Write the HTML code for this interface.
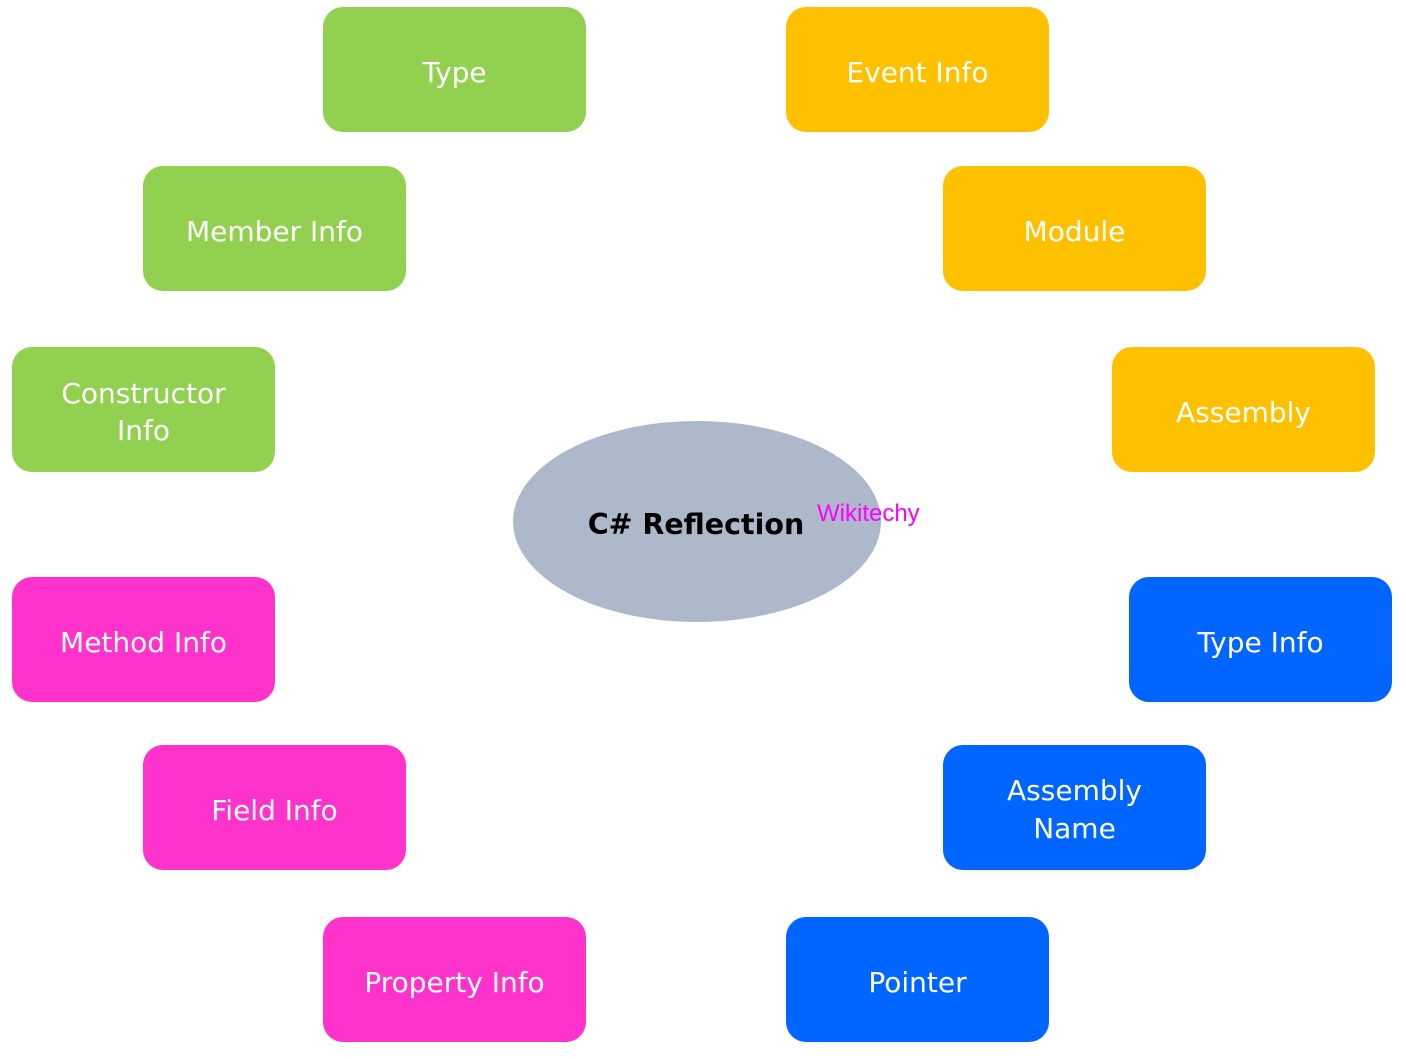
<!DOCTYPE html>
<html>
<head>
<meta charset="utf-8">
<style>
html,body{margin:0;padding:0;background:#fff;}
svg{display:block;}
.t{font-family:"DejaVu Sans","Liberation Sans",sans-serif;font-size:28px;fill:#fff;text-anchor:middle;}
</style>
</head>
<body>
<svg width="1406" height="1059" viewBox="0 0 1406 1059" xmlns="http://www.w3.org/2000/svg">
  <!-- green -->
  <rect x="323" y="7" width="263" height="125" rx="20" fill="#92D050"/>
  <text class="t" x="454.5" y="82">Type</text>
  <rect x="143" y="166" width="263" height="125" rx="20" fill="#92D050"/>
  <text class="t" x="274.5" y="241">Member Info</text>
  <rect x="12" y="347" width="263" height="125" rx="20" fill="#92D050"/>
  <text class="t" x="143.5" y="403">Constructor</text>
  <text class="t" x="143.5" y="440">Info</text>

  <!-- orange -->
  <rect x="786" y="7" width="263" height="125" rx="20" fill="#FFC000"/>
  <text class="t" x="917.5" y="82">Event Info</text>
  <rect x="943" y="166" width="263" height="125" rx="20" fill="#FFC000"/>
  <text class="t" x="1074.5" y="241">Module</text>
  <rect x="1112" y="347" width="263" height="125" rx="20" fill="#FFC000"/>
  <text class="t" x="1243.5" y="422">Assembly</text>

  <!-- magenta -->
  <rect x="12" y="577" width="263" height="125" rx="20" fill="#FF33CC"/>
  <text class="t" x="143.5" y="652">Method Info</text>
  <rect x="143" y="745" width="263" height="125" rx="20" fill="#FF33CC"/>
  <text class="t" x="274.5" y="820">Field Info</text>
  <rect x="323" y="917" width="263" height="125" rx="20" fill="#FF33CC"/>
  <text class="t" x="454.5" y="992">Property Info</text>

  <!-- blue -->
  <rect x="1129" y="577" width="263" height="125" rx="20" fill="#0066FF"/>
  <text class="t" x="1260.5" y="652">Type Info</text>
  <rect x="943" y="745" width="263" height="125" rx="20" fill="#0066FF"/>
  <text class="t" x="1074.5" y="800">Assembly</text>
  <text class="t" x="1074.5" y="838">Name</text>
  <rect x="786" y="917" width="263" height="125" rx="20" fill="#0066FF"/>
  <text class="t" x="917.5" y="992">Pointer</text>

  <!-- center -->
  <ellipse cx="697" cy="521.5" rx="184" ry="100.5" fill="#ADB9CA"/>
  <text x="696" y="534" font-family="'DejaVu Sans','Liberation Sans',sans-serif" font-weight="bold" font-size="28.5" fill="#000" text-anchor="middle">C# Reflection</text>
  <text x="817" y="521" font-family="'Liberation Sans',Arial,sans-serif" font-size="24" fill="#FF00FF">Wikitechy</text>
</svg>
</body>
</html>
